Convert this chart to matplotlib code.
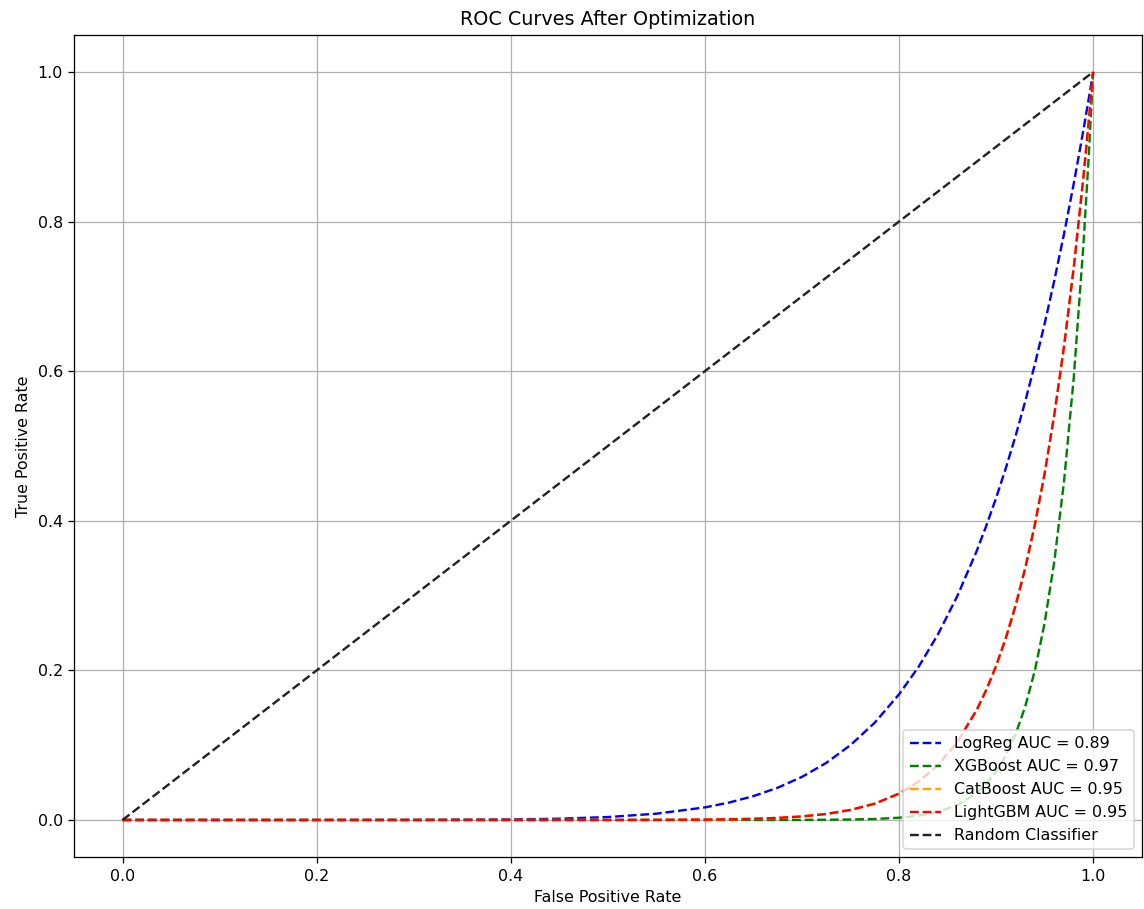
import matplotlib
matplotlib.use("Agg")
import matplotlib.pyplot as plt

# False positive rate sample points
fpr = [0.0, 0.1, 0.2, 0.3, 0.4, 0.45, 0.5, 0.55, 0.6, 0.625, 0.65, 0.675, 0.7,
       0.725, 0.75, 0.775, 0.8, 0.82, 0.84, 0.86, 0.88, 0.89, 0.9, 0.91, 0.92,
       0.93, 0.94, 0.95, 0.96, 0.97, 0.98, 0.99, 0.995, 1.0]

# True positive rates
tpr_logreg = [0.0, 0.0, 0.0, 0.0001, 0.0007, 0.0017, 0.0039, 0.0084, 0.0168,
              0.0233, 0.0319, 0.0431, 0.0576, 0.0763, 0.1001, 0.1301, 0.168,
              0.2044, 0.2479, 0.2992, 0.3596, 0.3937, 0.4305, 0.4703, 0.5132,
              0.5596, 0.6096, 0.6634, 0.7214, 0.7837, 0.8508, 0.9227, 0.961, 1.0]
tpr_xgboost = [0.0, 0.0, 0.0, 0.0, 0.0, 0.0, 0.0, 0.0, 0.0, 0.0, 0.0, 0.0,
               0.0001, 0.0003, 0.0006, 0.0013, 0.003, 0.0057, 0.0108, 0.0198,
               0.036, 0.0483, 0.0646, 0.0861, 0.1144, 0.1516, 0.2002, 0.2635,
               0.346, 0.4529, 0.5914, 0.77, 0.878, 1.0]
tpr_catboost = [0.0, 0.0, 0.0, 0.0, 0.0, 0.0, 0.00003, 0.00013, 0.00047, 0.00087,
                0.00157, 0.00275, 0.00475, 0.008, 0.0134, 0.0218, 0.0352, 0.051,
                0.0732, 0.1041, 0.147, 0.1742, 0.2059, 0.2431, 0.2863, 0.3367,
                0.3953, 0.4633, 0.5421, 0.6333, 0.7386, 0.86, 0.928, 1.0]
tpr_lightgbm = [0.0, 0.0, 0.0, 0.0, 0.0, 0.0, 0.00003, 0.00013, 0.00047, 0.00087,
                0.00157, 0.00275, 0.00475, 0.008, 0.0134, 0.0218, 0.0352, 0.051,
                0.0732, 0.1041, 0.147, 0.1742, 0.2059, 0.2431, 0.2863, 0.3367,
                0.3953, 0.4633, 0.5421, 0.6333, 0.7386, 0.86, 0.928, 1.0]

labels = ["LogReg AUC = 0.89", "XGBoost AUC = 0.97", "CatBoost AUC = 0.95",
          "LightGBM AUC = 0.95"]
diag_x = [0, 1]
diag_y = [0, 1]

fig = plt.figure(figsize=(10, 7.946), dpi=114.4)
ax = fig.add_axes([0.0647, 0.0568, 0.9333, 0.9052])

ax.plot(fpr, tpr_logreg, linestyle="--", color="blue", label=labels[0])
ax.plot(fpr, tpr_xgboost, linestyle="--", color="green", label=labels[1])
ax.plot(fpr, tpr_catboost, linestyle="--", color="orange", label=labels[2])
ax.plot(fpr, tpr_lightgbm, linestyle="--", color="red", label=labels[3])
ax.plot(diag_x, diag_y, linestyle="--", color="#222222", label="Random Classifier")

ax.set_xlabel("False Positive Rate")
ax.set_ylabel("True Positive Rate")
ax.set_title("ROC Curves After Optimization")
ax.grid(True)
ax.legend(loc="lower right")

fig.savefig("out.png", dpi=114.4)
